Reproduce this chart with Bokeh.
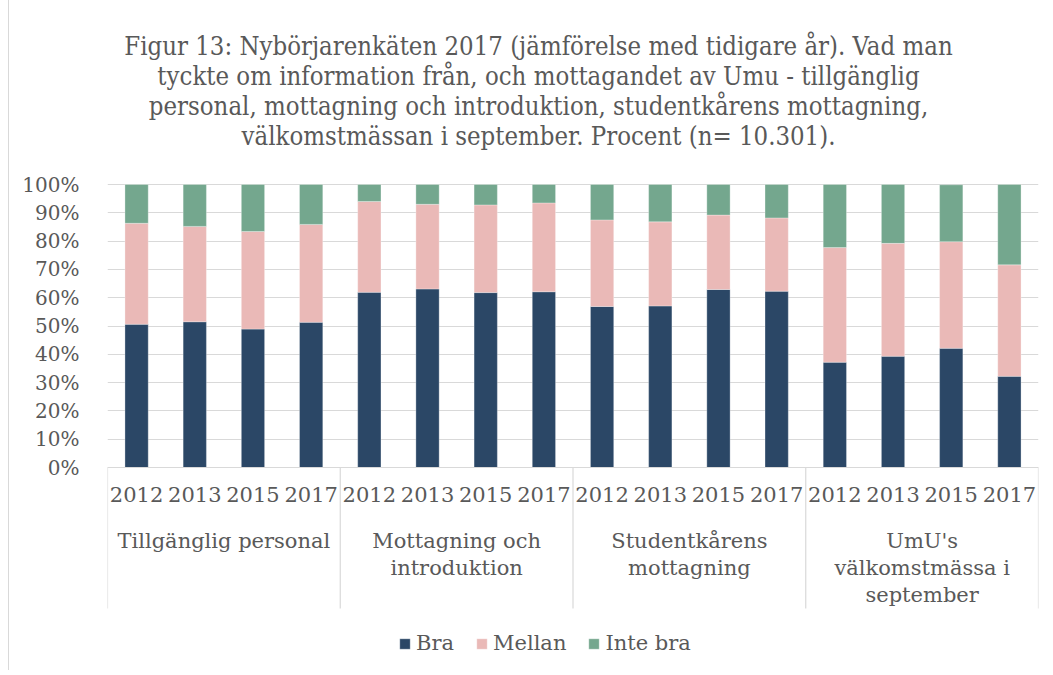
from bokeh.plotting import figure
from bokeh.models import Range1d, FixedTicker, PrintfTickFormatter, ColumnDataSource, Legend, LegendItem
from bokeh.core.properties import value
from bokeh.embed import file_html
from bokeh.resources import INLINE

title_lines = [
    "Figur 13: Nybörjarenkäten 2017 (jämförelse med tidigare år). Vad man",
    "tyckte om information från, och mottagandet av Umu - tillgänglig",
    "personal, mottagning och introduktion, studentkårens mottagning,",
    "välkomstmässan i september. Procent (n= 10.301).",
]
groups = ["Tillgänglig personal", "Mottagning och\nintroduktion",
          "Studentkårens\nmottagning", "UmU's\nvälkomstmässa i\nseptember"]
years = ["2012", "2013", "2015", "2017"]
series = ["Bra", "Mellan", "Inte bra"]
bra = [50.6, 51.5, 48.9, 51.3, 61.9, 63.1, 61.8, 62.1, 56.9, 57.1, 62.9, 62.3, 37.2, 39.3, 42.1, 32.2]
mellan = [35.7, 33.7, 34.5, 34.6, 32.1, 29.9, 31.0, 31.4, 30.6, 29.7, 26.3, 25.9, 40.5, 39.9, 37.7, 39.4]
inte_bra = [13.7, 14.8, 16.6, 14.1, 6.0, 7.0, 7.2, 6.5, 12.5, 13.2, 10.8, 11.8, 22.3, 20.8, 20.1, 28.4]
colors = ["#2B4766", "#EAB9B7", "#74A78E"]

TXT = "#595959"
FONT = "DejaVu Serif"
GRID = "#D9D9D9"

n = len(bra)
xs = [i + 0.5 for i in range(n)]
src = ColumnDataSource(dict(x=xs, Bra=bra, Mellan=mellan, Inte=inte_bra))

W, H = 1046, 670
ppu = 2.83  # pixels per percent
zero_y = 467  # px from top of figure
p = figure(width=W, height=H, output_backend="svg", toolbar_location=None,
           x_range=Range1d(0, n), y_range=Range1d((zero_y - H) / ppu, zero_y / ppu),
           min_border_left=107, min_border_right=8, min_border_top=0, min_border_bottom=0)
p.outline_line_color = None
p.border_fill_color = None
p.background_fill_color = None
p.xaxis.visible = False
p.xgrid.visible = False
p.ygrid.grid_line_color = GRID
p.ygrid.grid_line_width = 1
ax = p.yaxis[0]
ax.ticker = FixedTicker(ticks=list(range(0, 101, 10)))
ax.formatter = PrintfTickFormatter(format="%d%%")
ax.axis_line_color = None
ax.major_tick_line_color = None
ax.minor_tick_line_color = None
ax.major_label_text_font = FONT
ax.major_label_text_font_size = "20px"
ax.major_label_text_color = TXT
ax.major_label_standoff = 22

rs = p.vbar_stack(["Bra", "Mellan", "Inte"], x="x", width=0.4, source=src,
                  color=colors, line_color="#ffffff", line_alpha=0.5, line_width=0.6)

# category axis line and dividers
p.segment(x0=[0], y0=[0], x1=[n], y1=[0], line_color=GRID, line_width=1.2)
div_x = list(range(0, n + 1, len(years)))
p.segment(x0=div_x, y0=[0] * len(div_x), x1=div_x, y1=[-49.8] * len(div_x),
          line_color=GRID, line_width=1.2)

# year labels
p.text(x=xs, y=[-9.6] * n, text=years * len(groups), text_align="center",
       text_baseline="middle", text_font=value(FONT), text_font_size="21px",
       text_color=TXT)

# group labels
gx, gy, gt = [], [], []
for gi, g in enumerate(groups):
    for li, line in enumerate(g.split("\n")):
        gx.append(gi * len(years) + len(years) / 2)
        gy.append(-25.8 - li * 9.6)
        gt.append(line)
p.text(x=gx, y=gy, text=gt, text_align="center", text_baseline="middle",
       text_font=value(FONT), text_font_size="21px", text_color=TXT)

# title
tcx = (538 - 107) / (931 / n)
p.text(x=[tcx] * len(title_lines), y=[149.1 - i * 10.65 for i in range(len(title_lines))],
       text=title_lines, text_align="center", text_baseline="middle",
       text_font=value("DejaVu Serif Condensed"), text_font_size="25.5px", text_color=TXT)

legend = Legend(items=[LegendItem(label=s, renderers=[r]) for s, r in zip(series, rs)],
                orientation="horizontal", location=(291, 15))
legend.border_line_color = None
legend.background_fill_alpha = 0
legend.padding = 0
legend.margin = 0
legend.spacing = 21
legend.glyph_width = 13
legend.glyph_height = 13
legend.label_standoff = 5
legend.label_text_font = FONT
legend.label_text_font_size = "21px"
legend.label_text_color = TXT
p.add_layout(legend)

p.styles = {"background": "linear-gradient(to right, #ffffff 8px, #D9D9D9 8px, #D9D9D9 9px, #ffffff 9px)"}

open("out.html", "w").write(file_html(p, INLINE))
